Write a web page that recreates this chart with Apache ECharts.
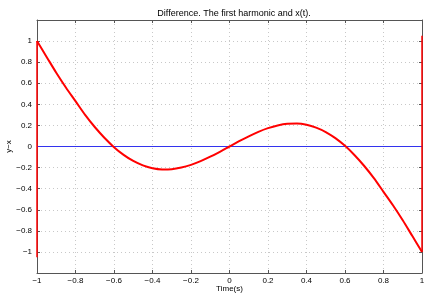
<!DOCTYPE html>
<html>
<head>
<meta charset="utf-8">
<script src="https://cdn.jsdelivr.net/npm/echarts@6/dist/echarts.min.js"></script>
<style>
  html, body { margin: 0; padding: 0; background: #fff; }
  #chart { width: 425px; height: 295px; }
</style>
</head>
<body>
<div id="chart"></div>
<script>
// time samples (s)
const timeVals = [-1, -0.95, -0.9, -0.85, -0.8, -0.75, -0.7, -0.65, -0.6, -0.55, -0.5,
  -0.45, -0.4, -0.35, -0.3, -0.25, -0.2, -0.15, -0.1, -0.05, 0,
  0.05, 0.1, 0.15, 0.2, 0.25, 0.3, 0.35, 0.4, 0.45, 0.5,
  0.55, 0.6, 0.65, 0.7, 0.75, 0.8, 0.85, 0.9, 0.95, 1]
// y - x
const diffVals = [1.0, 0.85, 0.70, 0.56, 0.43, 0.30, 0.185, 0.083, -0.006, -0.079, -0.137,
  -0.179, -0.206, -0.217, -0.215, -0.20, -0.174, -0.139, -0.097, -0.05, 0,
  0.05, 0.097, 0.139, 0.174, 0.20, 0.215, 0.217, 0.206, 0.179, 0.137,
  0.079, 0.006, -0.083, -0.185, -0.30, -0.43, -0.56, -0.70, -0.85, -1.0]
// jumps of the periodic signal at the interval ends
const leftJump = [[-1, -1.05], [-1, 1]]
const rightJump = [[1, -1], [1, 1.05]]
const zeroLine = [[-1, 0], [1, 0]]

const diffData = timeVals.map((t, i) => [t, diffVals[i]])

const font = 'Liberation Sans, Arial, sans-serif'
const gridLine = { show: true, lineStyle: { color: '#c8c8c8', type: [1, 3], width: 1 } }
const frame = { show: true, onZero: false, lineStyle: { color: '#555' } }
const inTick = { show: true, inside: true, length: 3, lineStyle: { color: '#555' } }
const fmt = v => {
  if (Math.abs(v) > 1.05) return ''
  if (Math.abs(v) < 1e-9) return '0'
  return String(+v.toFixed(1)).replace('-', '\u2212')
}

const chart = echarts.init(document.getElementById('chart'))
chart.setOption({
  animation: false,
  title: {
    text: 'Difference. The first harmonic and x(t).',
    left: 229, top: 4, textAlign: 'center',
    textStyle: { fontFamily: font, fontSize: 9, fontWeight: 'normal', color: '#000' }
  },
  grid: { left: 37, right: 3, top: 20, bottom: 22, containLabel: false, outerBoundsMode: 'none' },
  xAxis: [
    {
      type: 'value', min: -1, max: 1, interval: 0.2, position: 'bottom',
      name: 'Time(s)', nameLocation: 'middle', nameGap: 12, nameMoveOverlap: false,
      nameTextStyle: { fontFamily: font, fontSize: 8, color: '#000', verticalAlign: 'top' },
      axisLine: frame, axisTick: inTick,
      axisLabel: { fontFamily: font, fontSize: 8, color: '#000', margin: 4, formatter: fmt },
      splitLine: gridLine
    },
    {
      type: 'value', min: -1, max: 1, interval: 0.2, position: 'top',
      axisLine: frame, axisTick: inTick,
      axisLabel: { show: false },
      splitLine: { show: false }
    }
  ],
  yAxis: [
    {
      type: 'value', min: -1.2, max: 1.2, interval: 0.2, position: 'left',
      name: 'y\u2212x', nameLocation: 'middle', nameGap: 24, nameRotate: 90, nameMoveOverlap: false,
      nameTextStyle: { fontFamily: font, fontSize: 8, color: '#000', verticalAlign: 'bottom' },
      axisLine: frame, axisTick: inTick,
      axisLabel: { fontFamily: font, fontSize: 8, color: '#000', margin: 5, formatter: fmt },
      splitLine: gridLine
    },
    {
      type: 'value', min: -1.2, max: 1.2, interval: 0.2, position: 'right',
      axisLine: frame, axisTick: inTick,
      axisLabel: { show: false },
      splitLine: { show: false }
    }
  ],
  series: [
    {
      type: 'line', data: zeroLine, showSymbol: false,
      lineStyle: { color: '#3333ee', width: 1.2 }
    },
    {
      type: 'line', data: leftJump, showSymbol: false,
      lineStyle: { color: '#ff0000', width: 1.5 }
    },
    {
      type: 'line', data: rightJump, showSymbol: false,
      lineStyle: { color: '#ff0000', width: 1.5 }
    },
    {
      type: 'line', data: diffData, showSymbol: false, smooth: 0.3,
      lineStyle: { color: '#ff0000', width: 2 }
    }
  ]
})
</script>
</body>
</html>
